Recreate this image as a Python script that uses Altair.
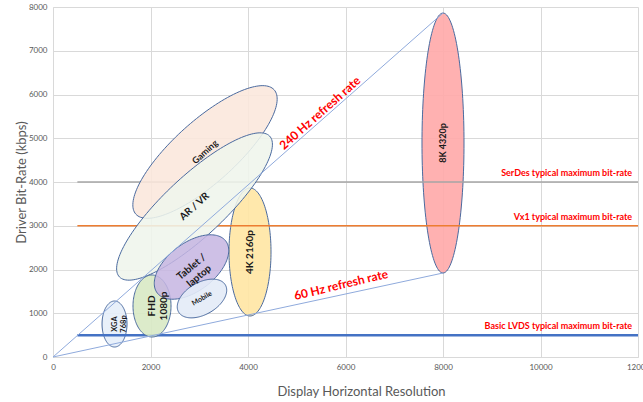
import altair as alt
import pandas as pd
import numpy as np

FONT = "Lato"

# ---- ellipse definitions (center, semi-axis vectors in data units) ----
ell_names = ["8K 4320p", "4K 2160p", "XGA 768p", "Gaming", "AR / VR", "FHD 1080p", "Tablet / laptop", "Mobile"]
ell_cx = [8000, 4041, 1262, 3118, 2903, 2031, 2841, 3056]
ell_cy = [4891, 2400, 754, 4686, 3440, 1166, 2057, 1337]
ell_ux = [0, 0, 0, 1418, 1540, 0, 704, 480]
ell_uy = [2971, 1463, 526, 1422, 1610, 709, 592, 309]
ell_vx = [431, 431, 256, -425, -427, 390, -296, -164]
ell_vy = [0, 0, 0, 527, 493, 0, 438, 317]
ell_fill = ["#ffa8a8", "#ffe6a3", "#e6eef9", "#fbe7dc", "#eff5ec", "#d8e9c4", "#c6b5e2", "#e3ebf7"]
ell_opacity = [0.9, 0.9, 0.9, 0.88, 0.88, 0.9, 0.85, 0.9]

# ---- ellipse labels ----
lbl_text = ["8K 4320p", "4K 2160p", "XGA\n768p", "Gaming", "AR / VR", "FHD\n1080p", "Tablet /\nlaptop", "Mobile"]
lbl_angle = [270, 270, 270, 318, 318, 270, 320, 330]
lbl_size = [9, 10, 7.5, 9, 10, 10, 10, 7]

# ---- horizontal limit lines ----
lim_names = ["SerDes typical maximum bit-rate", "Vx1 typical maximum bit-rate", "Basic LVDS typical maximum bit-rate"]
lim_y = [4000, 3000, 500]
lim_x0 = [500, 500, 500]
lim_x1 = [12000, 12000, 12000]
lim_color = ["#a6a6a6", "#ed7d31", "#4472c4"]
lim_width = [1.5, 1.5, 2.5]
lim_label_x = [11880, 11880, 11880]

# ---- refresh-rate rays ----
ray_x = [0, 8000]
ray_240 = [0, 7862]
ray_60 = [0, 1920]
ann_text = ["240 Hz refresh rate", "60 Hz refresh rate"]
ann_x = [5477, 5908]
ann_y = [5577, 1646]
ann_angle = [318.5, 346.5]

x_ticks = [0, 2000, 4000, 6000, 8000, 10000, 12000]
y_ticks = [0, 1000, 2000, 3000, 4000, 5000, 6000, 7000, 8000]

x_enc = alt.X("x:Q", scale=alt.Scale(domain=[0, 12000], nice=False),
              axis=alt.Axis(values=x_ticks, format="d", title="Display Horizontal Resolution", grid=True,
                            gridColor="#d9d9d9", domainColor="#d9d9d9", ticks=False,
                            labelFontSize=8, labelColor="#595959", labelFont=FONT, labelPadding=6,
                            titleFont=FONT, titleFontSize=13, titleColor="#595959",
                            titleFontWeight="normal", titlePadding=14, titleX=308, labelFlush=False))
y_enc = alt.Y("y:Q", scale=alt.Scale(domain=[0, 8000], nice=False),
              axis=alt.Axis(values=y_ticks, format="d", title="Driver Bit-Rate (kbps)", grid=True,
                            gridColor="#d9d9d9", domainColor="#d9d9d9", ticks=False,
                            labelFontSize=8, labelColor="#595959", labelFont=FONT, labelPadding=6,
                            titleFont=FONT, titleFontSize=13, titleColor="#595959",
                            titleFontWeight="normal", titleX=-32, titleY=175, titleBaseline="middle",
                            titleAngle=270, labelFlush=False))

t = np.linspace(0, 2 * np.pi, 145)


def ellipse_layer(k):
    df = pd.DataFrame({
        "x": ell_cx[k] + np.cos(t) * ell_ux[k] + np.sin(t) * ell_vx[k],
        "y": ell_cy[k] + np.cos(t) * ell_uy[k] + np.sin(t) * ell_vy[k],
        "i": np.arange(len(t)),
        "name": ell_names[k],
    })
    return alt.Chart(df).mark_line(fill=ell_fill[k], fillOpacity=ell_opacity[k],
                                   stroke="#4a6a9f", strokeWidth=1).encode(
        x=x_enc, y=y_enc, order="i:Q")


def label_layer(k):
    df = pd.DataFrame({"x": [ell_cx[k]], "y": [ell_cy[k]], "label": [lbl_text[k]]})
    return alt.Chart(df).mark_text(font=FONT, fontWeight="bold", fontSize=lbl_size[k],
                                   angle=lbl_angle[k], color="#1a1a1a", lineBreak="\n",
                                   align="center", baseline="middle").encode(
        x=x_enc, y=y_enc, text="label:N")


lim_df = pd.DataFrame({"x": lim_x0, "x2": lim_x1, "y": lim_y, "name": lim_names})
lim_layers = []
for j in range(len(lim_names)):
    lim_layers.append(
        alt.Chart(lim_df.iloc[[j]]).mark_rule(color=lim_color[j], strokeWidth=lim_width[j]).encode(
            x=x_enc, x2="x2:Q", y=y_enc))

lim_lbl_df = pd.DataFrame({"x": lim_label_x, "y": lim_y, "label": lim_names})
lim_labels = alt.Chart(lim_lbl_df).mark_text(font=FONT, fontWeight="bold", fontSize=9, color="#ff0000",
                                             align="right", baseline="bottom", dy=-4).encode(
    x=x_enc, y=y_enc, text="label:N")

ray_df = pd.DataFrame({
    "x": ray_x + ray_x,
    "y": ray_240 + ray_60,
    "rate": ["240 Hz", "240 Hz", "60 Hz", "60 Hz"],
})
rays = alt.Chart(ray_df).mark_line(color="#8faadc", strokeWidth=1).encode(
    x=x_enc, y=y_enc, detail="rate:N")

ann_layers = []
for j in range(len(ann_text)):
    df = pd.DataFrame({"x": [ann_x[j]], "y": [ann_y[j]], "label": [ann_text[j]]})
    ann_layers.append(alt.Chart(df).mark_text(font=FONT, fontWeight="bold", fontSize=12, color="#ff0000",
                                              angle=ann_angle[j], align="center", baseline="middle").encode(
        x=x_enc, y=y_enc, text="label:N"))

layers = [ellipse_layer(0), ellipse_layer(1), ellipse_layer(2)] + lim_layers + \
         [ellipse_layer(k) for k in range(3, 8)] + [rays] + \
         [label_layer(k) for k in range(8)] + [lim_labels] + ann_layers

chart = alt.layer(*layers).properties(
    width=585, height=350,
    autosize=alt.AutoSizeParams(type="none"),
    padding={"left": 53, "top": 7, "right": 5, "bottom": 45},
    background="white",
).configure_view(stroke="transparent")

chart.save("out.html", embed_options={"renderer": "svg", "actions": False})
